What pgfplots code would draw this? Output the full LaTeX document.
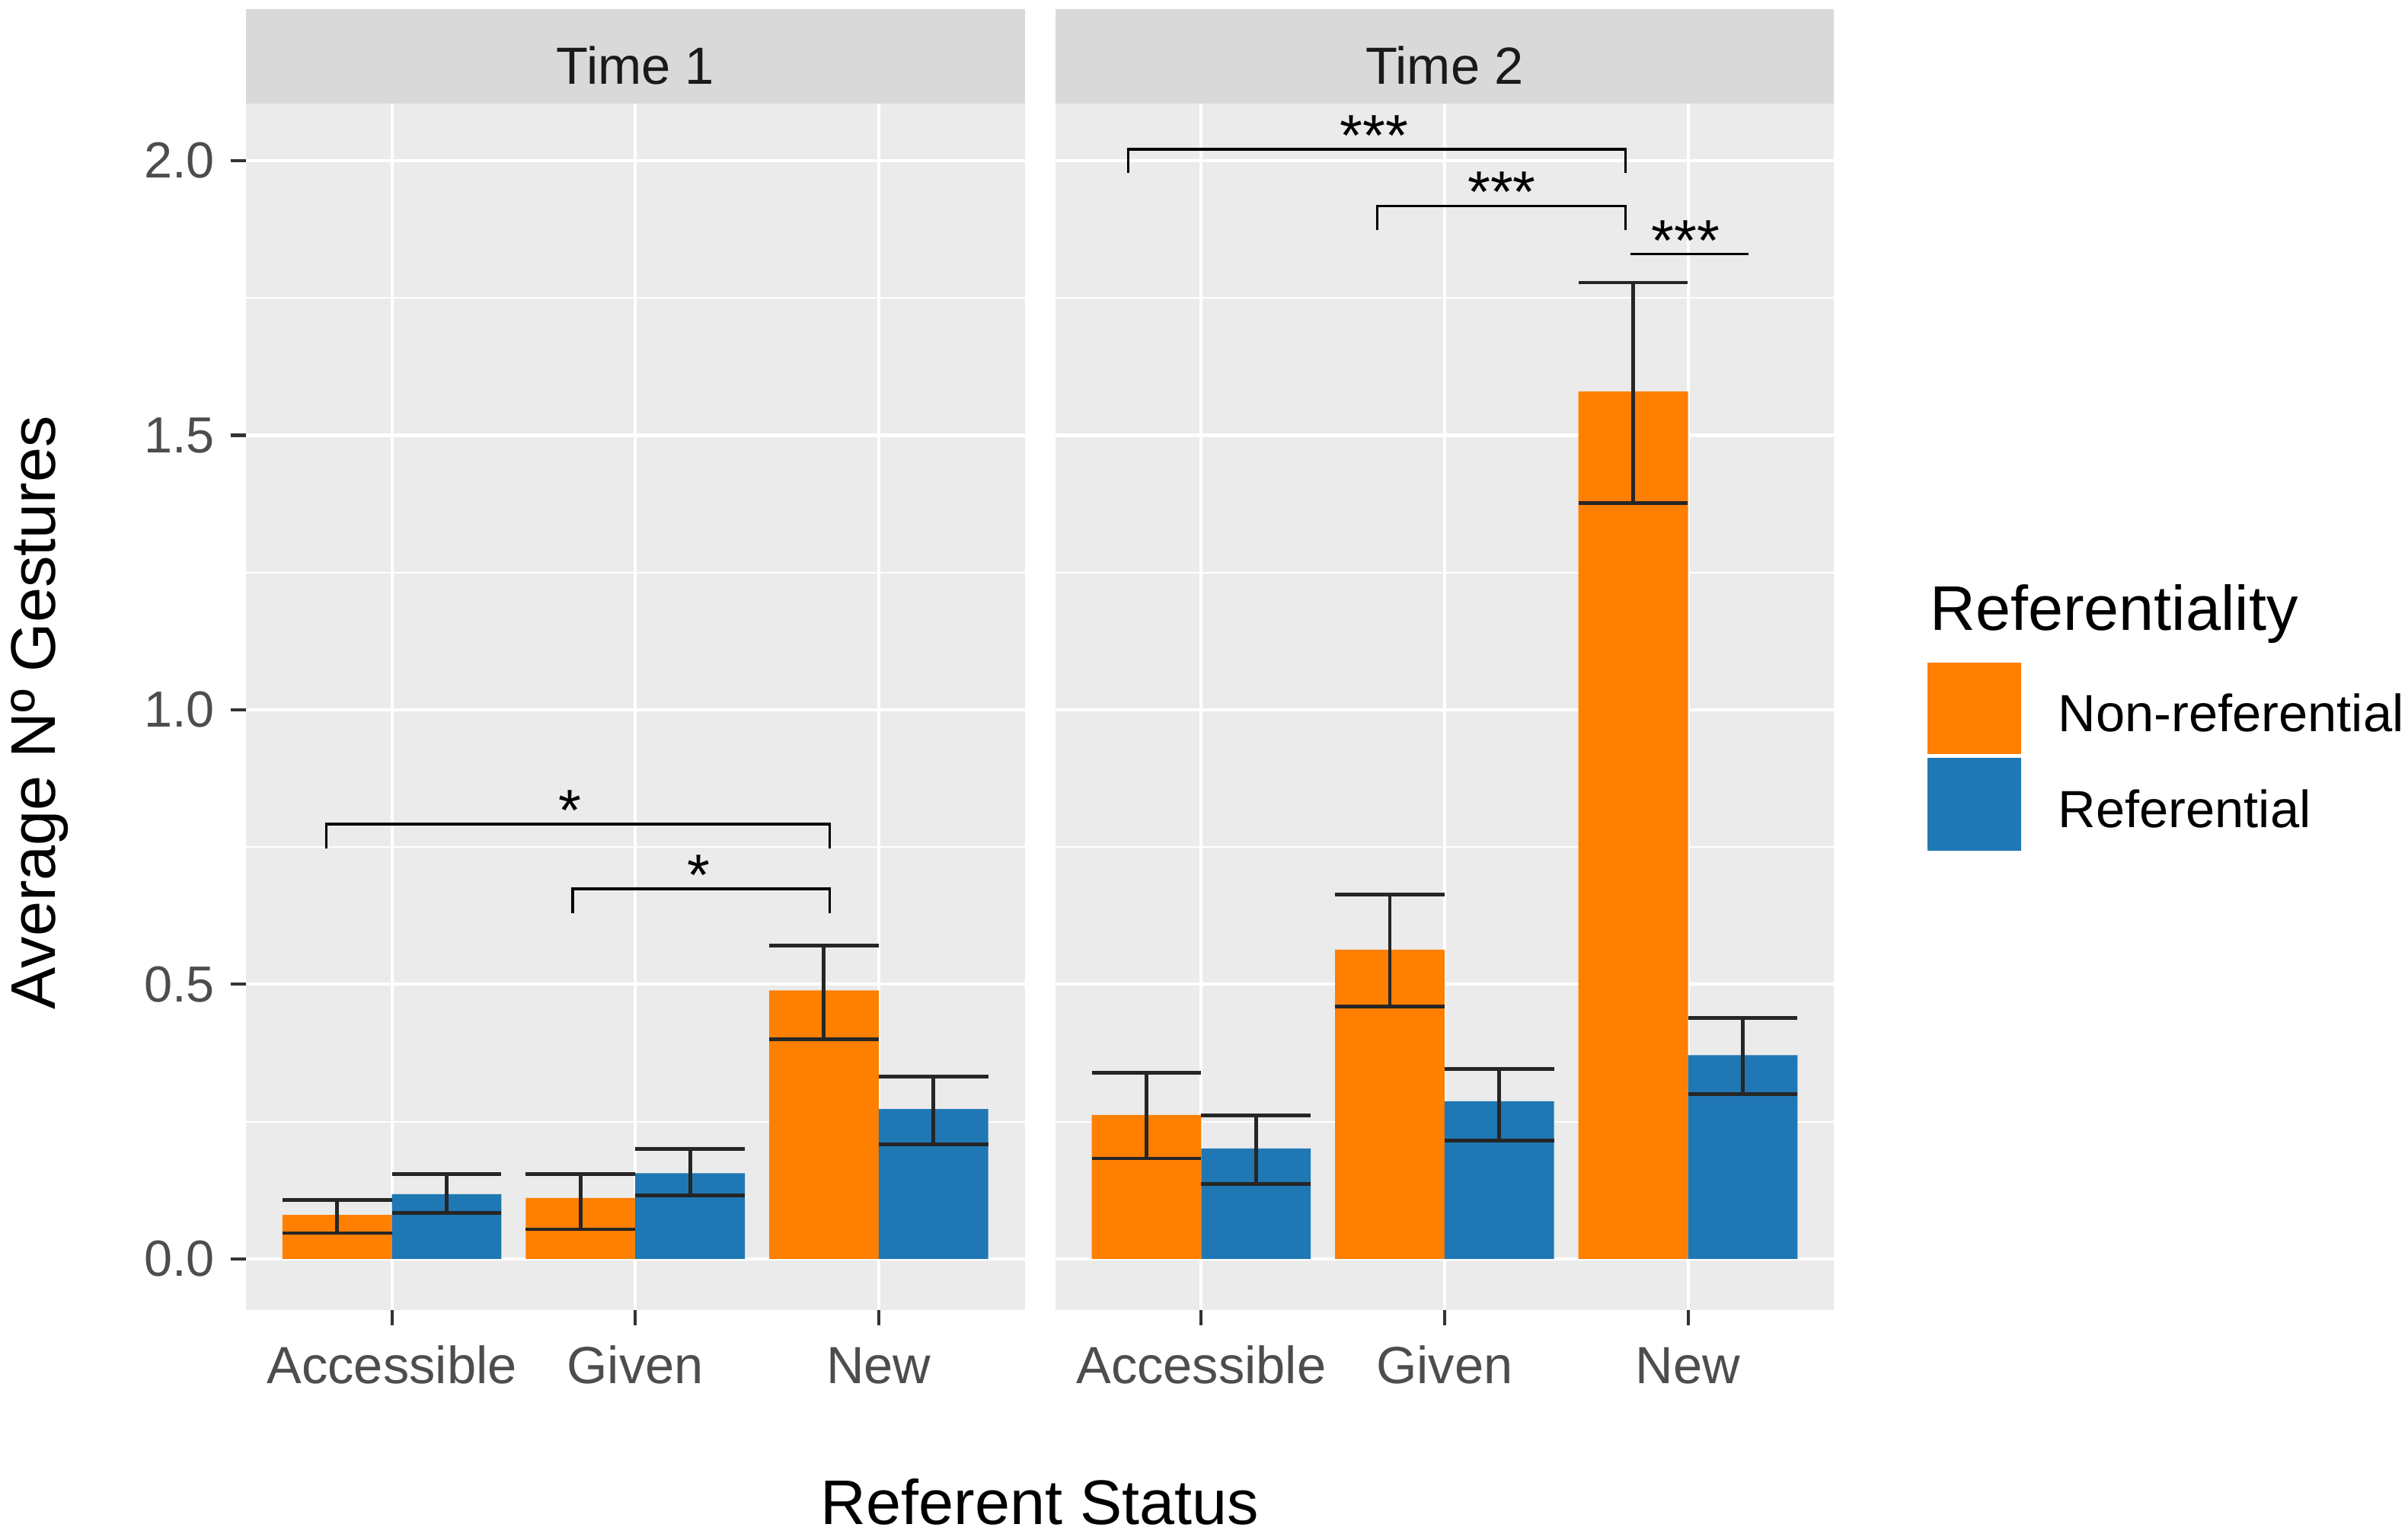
\documentclass[border=0pt]{standalone}
\usepackage{pgfplots}
\pgfplotsset{compat=1.18}
\usepackage{fontspec}
\setmainfont{Liberation Sans}
\definecolor{nonref}{HTML}{FF7F00}
\definecolor{refc}{HTML}{1F78B4}
\definecolor{panelbg}{HTML}{EBEBEB}
\definecolor{stripbg}{HTML}{D9D9D9}
\definecolor{gray30}{HTML}{4D4D4D}
\definecolor{gray20}{HTML}{333333}
\definecolor{gray10}{HTML}{1A1A1A}
\definecolor{errc}{HTML}{262626}

\pgfplotsset{
  facet/.style={
    anchor=south west, scale only axis,
    width=253.25pt, height=392.25pt,
    xmin=0.4, xmax=3.6, ymin=-0.0933, ymax=2.104,
    clip=false,
    axis background/.style={fill=panelbg},
    axis line style={draw=none},
    xtick={1,2,3}, xticklabels={Accessible,Given,New},
    ytick={0,0.5,1,1.5,2},
    minor ytick={0.25,0.75,1.25,1.75},
    xmajorgrids, ymajorgrids, yminorgrids,
    major grid style={white, line width=1pt},
    minor grid style={white, line width=0.5pt},
    tick align=outside, major tick length=5pt, minor tick length=0pt,
    tick style={gray20, line width=1pt},
    xtick pos=bottom, ytick pos=left,
    xticklabel style={anchor=base, font=\fontsize{17}{20}\selectfont, text=gray30, inner sep=0pt, yshift=-18.75pt},
    yticklabel style={anchor=east, font=\fontsize{16.5}{19}\selectfont, text=gray30, inner sep=0pt, xshift=-5pt},
  },
  bars/.style={ybar, bar width=0.45, draw=none},
  errs/.style={draw=none, mark=none, forget plot,
    error bars/.cd, y dir=both, y explicit, error mark=|,
    error bar style={line width=1.2pt, color=errc},
    error mark options={line width=1.2pt, color=errc, mark size=17.8pt}},
  sig/.style={color=black, line width=0.8pt, mark=none},
}
\newcommand{\stars}[3]{\node[anchor=base, inner sep=0pt, font=\fontsize{19}{20}\selectfont] at (axis cs:#1,#2) {#3};}

\begin{document}
\begin{tikzpicture}
\useasboundingbox (0,0) rectangle (783pt,499.7pt);

% strips
\fill[stripbg] (79.95pt,466pt) rectangle (333.2pt,496.8pt);
\fill[stripbg] (343.1pt,466pt) rectangle (596.35pt,496.8pt);
\node[font=\fontsize{17}{20}\selectfont, text=gray10] at (206.6pt,478.45pt) {Time 1};
\node[font=\fontsize{17}{20}\selectfont, text=gray10] at (469.7pt,478.45pt) {Time 2};

% ---------- Time 1 ----------
\begin{axis}[facet, at={(79.95pt,73.75pt)},
  yticklabels={0.0,0.5,1.0,1.5,2.0}]
\addplot[bars, bar shift=-0.225, fill=nonref] coordinates {(1,0.080) (2,0.111) (3,0.489)};
\addplot[bars, bar shift=0.225, fill=refc] coordinates {(1,0.118) (2,0.156) (3,0.273)};
\addplot[errs] coordinates {
  (0.775,0.080) += (0,0.027) -= (0,0.033)
  (1.775,0.111) += (0,0.043) -= (0,0.057)
  (2.775,0.489) += (0,0.082) -= (0,0.089)
};
\addplot[errs] coordinates {
  (1.225,0.118) += (0,0.036) -= (0,0.034)
  (2.225,0.156) += (0,0.044) -= (0,0.040)
  (3.225,0.273) += (0,0.059) -= (0,0.065)
};
\addplot[sig] coordinates {(0.73,0.748) (0.73,0.792) (2.798,0.792) (2.798,0.748)};
\addplot[sig] coordinates {(1.743,0.630) (1.743,0.674) (2.798,0.674) (2.798,0.630)};
\stars{1.733}{0.780}{*}
\stars{2.26}{0.662}{*}
\end{axis}

% ---------- Time 2 ----------
\begin{axis}[facet, at={(343.1pt,73.75pt)},
  yticklabels={}, ytick style={draw=none}]
\addplot[bars, bar shift=-0.225, fill=nonref] coordinates {(1,0.262) (2,0.563) (3,1.580)};
\addplot[bars, bar shift=0.225, fill=refc] coordinates {(1,0.201) (2,0.287) (3,0.371)};
\addplot[errs] coordinates {
  (0.775,0.262) += (0,0.077) -= (0,0.079)
  (1.775,0.563) += (0,0.101) -= (0,0.103)
  (2.775,1.580) += (0,0.198) -= (0,0.203)
};
\addplot[errs] coordinates {
  (1.225,0.201) += (0,0.060) -= (0,0.064)
  (2.225,0.287) += (0,0.059) -= (0,0.072)
  (3.225,0.371) += (0,0.068) -= (0,0.071)
};
\addplot[sig] coordinates {(0.70,1.978) (0.70,2.021) (2.744,2.021) (2.744,1.978)};
\addplot[sig] coordinates {(1.724,1.874) (1.724,1.918) (2.744,1.918) (2.744,1.874)};
\addplot[sig] coordinates {(2.763,1.830) (3.25,1.830)};
\stars{1.71}{2.009}{***}
\stars{2.235}{1.906}{***}
\stars{2.99}{1.818}{***}
\end{axis}

% axis titles
\node[rotate=90, anchor=base, inner sep=0pt, font=\fontsize{20.5}{24}\selectfont] at (18pt,268pt) {Average Nº Gestures};
\node[anchor=base, inner sep=0pt, font=\fontsize{20.5}{24}\selectfont] at (338.15pt,4pt) {Referent Status};

% legend
\node[anchor=base west, inner sep=0pt, font=\fontsize{20.5}{24}\selectfont] at (627.4pt,294.7pt) {Referentiality};
\fill[nonref] (626.8pt,254.55pt) rectangle (657.2pt,284.25pt);
\fill[refc] (626.8pt,223.2pt) rectangle (657.2pt,253.3pt);
\node[anchor=west, inner sep=0pt, font=\fontsize{17}{20}\selectfont] at (669pt,267.9pt) {Non-referential};
\node[anchor=west, inner sep=0pt, font=\fontsize{17}{20}\selectfont] at (669pt,236.75pt) {Referential};
\end{tikzpicture}
\end{document}
